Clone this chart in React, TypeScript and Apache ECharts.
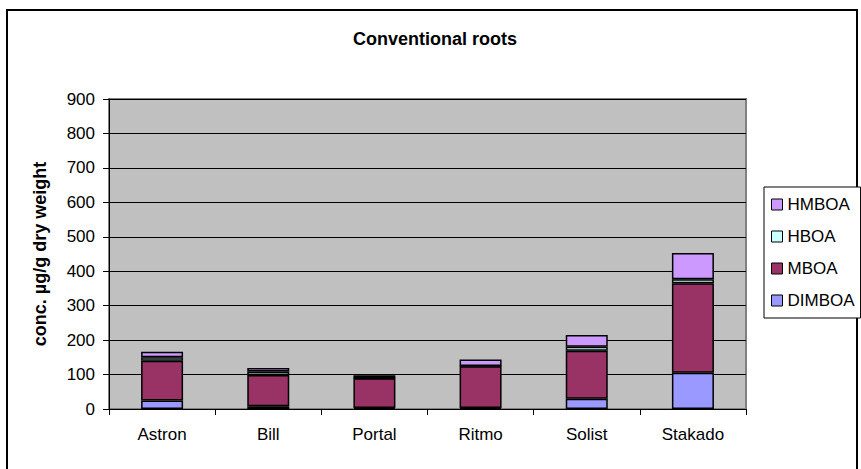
import React, { useEffect, useRef } from "react";
import * as echarts from "echarts";

const categories = ["Astron", "Bill", "Portal", "Ritmo", "Solist", "Stakado"];
const dimboa = [25, 8, 3, 3, 30, 105];
const mboa = [115, 91, 86, 121, 139, 260];
const hboa = [10, 10, 1, 1, 12, 12];
const hmboa = [16, 10, 8, 19, 34, 76];
const yTicks = { min: 0, max: 900, interval: 100 };

const FONT = "'Liberation Sans', Arial, sans-serif";

export default function App() {
  const ref = useRef<HTMLDivElement>(null);
  useEffect(() => {
    if (!ref.current) return;
    const chart = echarts.init(ref.current, undefined, { renderer: "svg" });
    const barStyle = (color: string) => ({
      color,
      borderColor: "#000",
      borderWidth: 1.5,
    });
    const mk = (name: string, data: number[], color: string) => ({
      name,
      type: "bar",
      stack: "total",
      barWidth: 42,
      data,
      itemStyle: barStyle(color),
      emphasis: { disabled: true },
    });
    chart.setOption({
      animation: false,
      backgroundColor: "#fff",
      textStyle: { fontFamily: FONT },
      title: {
        text: "Conventional roots",
        left: 430,
        textAlign: "center",
        top: 25,
        textStyle: { fontFamily: FONT, fontSize: 18, fontWeight: "bold", color: "#000" },
      },
      graphic: [
        {
          type: "rect",
          shape: { x: 7, y: 10, width: 850, height: 462 },
          style: { fill: "none", stroke: "#000", lineWidth: 2 },
          silent: true,
        },
      ],
      grid: {
        left: 109,
        right: 115,
        top: 99,
        bottom: 60,
        show: true,
        backgroundColor: "#C0C0C0",
        borderColor: "#808080",
        borderWidth: 2,
      },
      legend: {
        orient: "vertical",
        left: 764,
        top: 187,
        data: ["HMBOA", "HBOA", "MBOA", "DIMBOA"],
        icon: "rect",
        itemWidth: 11,
        itemHeight: 11,
        itemGap: 15,
        padding: [9, 6, 9, 7],
        borderColor: "#000",
        borderWidth: 1,
        backgroundColor: "#fff",
        itemStyle: { borderColor: "#000", borderWidth: 1 },
        textStyle: { fontFamily: FONT, fontSize: 17, color: "#000", padding: [0, 0, 0, 0] },
      },
      xAxis: {
        type: "category",
        data: categories,
        axisLine: { lineStyle: { color: "#000", width: 1 } },
        axisTick: { show: true, alignWithLabel: false, length: 6, lineStyle: { color: "#000" } },
        axisLabel: { fontFamily: FONT, fontSize: 17, color: "#000", margin: 17 },
        splitLine: { show: false },
      },
      yAxis: {
        type: "value",
        min: yTicks.min,
        max: yTicks.max,
        interval: yTicks.interval,
        name: "conc. µg/g dry weight",
        nameLocation: "middle",
        nameGap: 60,
        nameTextStyle: { fontFamily: FONT, fontSize: 18, fontWeight: "bold", color: "#000" },
        axisLine: { show: true, lineStyle: { color: "#000", width: 1 } },
        axisTick: { show: true, length: 6, lineStyle: { color: "#000" } },
        axisLabel: { fontFamily: FONT, fontSize: 17, color: "#000", margin: 14 },
        splitLine: { show: true, lineStyle: { color: "#000", width: 1 } },
      },
      series: [
        mk("DIMBOA", dimboa, "#9999FF"),
        mk("MBOA", mboa, "#993366"),
        mk("HBOA", hboa, "#CCFFFF"),
        mk("HMBOA", hmboa, "#CC99FF"),
      ],
    });
    return () => chart.dispose();
  }, []);
  return <div ref={ref} style={{ width: 861, height: 469, position: "absolute", left: 0, top: 0 }} />;
}
